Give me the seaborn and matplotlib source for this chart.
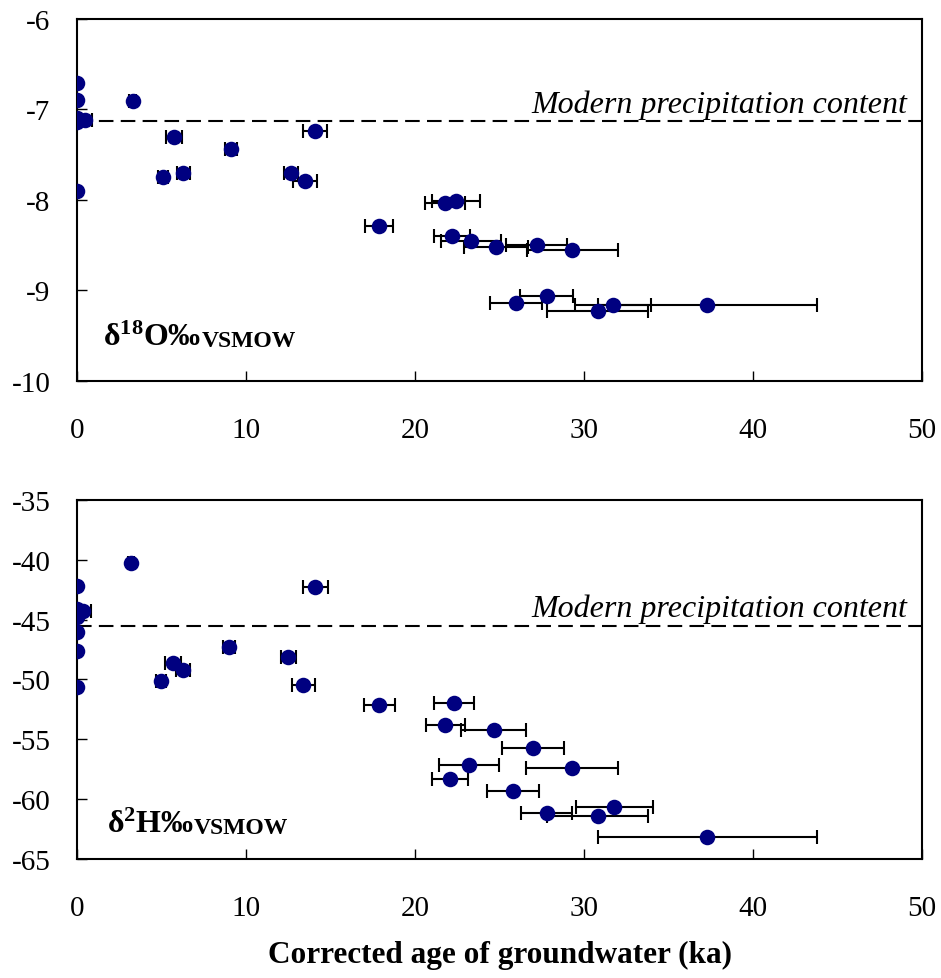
import numpy as np
import seaborn as sns
from matplotlib import pyplot as plt

# delta 18O panel
o18_age = [0, 0, 0, 0, 0, 0.47, 3.3, 5.74, 5.1, 6.3, 9.1, 12.66, 13.5, 14.1, 17.87,
           21.8, 22.4, 22.2, 23.3, 24.8, 27.2, 29.3, 26.0, 27.8, 30.8, 31.7, 37.3]
o18_val = [-6.71, -6.89, -7.09, -7.14, -7.90, -7.12, -6.91, -7.30, -7.75, -7.70, -7.44, -7.70, -7.79, -7.24, -8.29,
           -8.03, -8.01, -8.40, -8.45, -8.52, -8.50, -8.55, -9.14, -9.06, -9.23, -9.16, -9.16]
o18_err = [0, 0, 0, 0, 0, 0.4, 0.2, 0.47, 0.3, 0.4, 0.35, 0.4, 0.7, 0.7, 0.85,
           1.18, 1.42, 1.06, 1.78, 1.9, 1.8, 2.7, 1.54, 1.56, 3.0, 2.25, 6.5]
o18_modern = -7.13

# delta 2H panel
h2_age = [0, 0, 0, 0, 0, 0, 0.36, 3.2, 4.97, 5.7, 6.27, 9.0, 12.5, 13.4, 14.1, 17.9,
          22.3, 21.8, 24.65, 27.0, 23.2, 29.3, 22.06, 25.8, 27.8, 31.8, 30.8, 37.3]
h2_val = [-42.2, -44.1, -44.8, -46.0, -47.6, -50.6, -44.3, -40.3, -50.1, -48.6, -49.2, -47.3, -48.1, -50.5, -42.3, -52.17,
          -51.94, -53.83, -54.19, -55.69, -57.17, -57.36, -58.33, -59.36, -61.17, -60.69, -61.39, -63.19]
h2_err = [0, 0, 0, 0, 0, 0, 0.45, 0.2, 0.3, 0.47, 0.4, 0.35, 0.45, 0.7, 0.73, 0.9,
          1.2, 1.17, 1.93, 1.83, 1.78, 2.73, 1.07, 1.54, 1.5, 2.3, 3.0, 6.5]
h2_modern = -45.5

x_ticks = [0, 10, 20, 30, 40, 50]

sns.set_style('white')
plt.rcParams['font.family'] = ['Liberation Serif', 'DejaVu Serif']
plt.rcParams['axes.unicode_minus'] = False
plt.rcParams['mathtext.fontset'] = 'custom'
plt.rcParams['mathtext.rm'] = 'Liberation Serif:bold'
plt.rcParams['mathtext.default'] = 'rm'
plt.rcParams['text.color'] = 'black'
plt.rcParams['xtick.color'] = 'black'
plt.rcParams['ytick.color'] = 'black'


def draw_panel(ax, age, val, err, modern, ylim, yticks, label):
    err_x = [e if e > 0 else np.nan for e in err]
    ax.errorbar(age, val, xerr=err_x, fmt='none', ecolor='black', elinewidth=1.5,
                capsize=5, capthick=1.5, zorder=2)
    sns.scatterplot(x=age, y=val, ax=ax, color='#000080', s=125, edgecolor='#000080',
                    linewidth=0, zorder=3)
    ax.axhline(modern, color='black', lw=1.5, ls=(0, (7, 3.5)), zorder=1)
    ax.annotate('Modern precipitation content', xy=(49.1, modern), xytext=(0, 7),
                textcoords='offset points', ha='right', va='baseline',
                fontsize=23, style='italic', color='black')
    ax.set_xlim(0, 50)
    ax.set_ylim(*ylim)
    ax.set_xticks(x_ticks)
    ax.set_yticks(yticks)
    ax.set_yticklabels([str(t) for t in yticks])
    ax.tick_params(axis='both', direction='in', length=7, width=1, labelsize=21,
                   labelcolor='black', bottom=True, left=True, top=False, right=False)
    ax.tick_params(axis='x', pad=26)
    ax.tick_params(axis='y', pad=19)
    for s in ax.spines.values():
        s.set_color('black')
        s.set_linewidth(1.5)
    t1 = ax.text(label[1], label[2], label[0], transform=ax.transAxes, color='black',
                 fontsize=23, fontweight='bold', va='bottom', ha='left')
    ax.annotate('VSMOW', xy=(1, 0), xycoords=t1, xytext=(0, 1), textcoords='offset points',
                fontsize=17, fontweight='bold', va='bottom', ha='left', color='black')


fig = plt.figure(figsize=(9.41, 9.79), dpi=100)
ax1 = fig.add_axes([0.0818, 0.6098, 0.8980, 0.3698])
ax2 = fig.add_axes([0.0818, 0.1216, 0.8980, 0.3667])

draw_panel(ax1, o18_age, o18_val, o18_err, o18_modern, (-10, -6), [-10, -9, -8, -7, -6],
           ('δ$^{18}$O‰', 0.031, 0.08))
draw_panel(ax2, h2_age, h2_val, h2_err, h2_modern, (-65, -35), [-65, -60, -55, -50, -45, -40, -35],
           ('δ$^{2}$H‰', 0.035, 0.055))

fig.text(499.5 / 941, 1 - 955 / 979, 'Corrected age of groundwater (ka)', ha='center', va='center',
         fontsize=22.5, fontweight='bold', color='black')

plt.savefig('out.png', dpi=100)
plt.close()
